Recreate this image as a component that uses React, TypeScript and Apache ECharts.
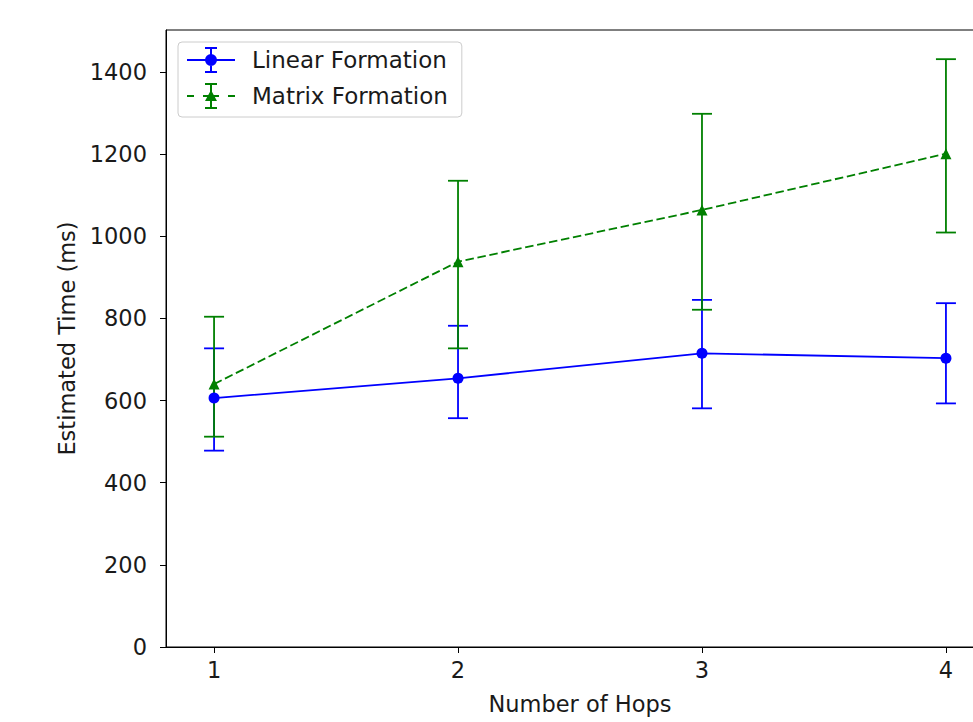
import React, { useEffect, useRef } from "react";
import * as echarts from "echarts";

const hops = [1, 2, 3, 4];
const linearMean = [606, 654, 715, 703];
const linearLow = [478, 557, 581, 593];
const linearHigh = [727, 782, 845, 837];
const matrixMean = [640, 938, 1064, 1201];
const matrixLow = [512, 727, 821, 1009];
const matrixHigh = [804, 1135, 1298, 1431];
const yTicks = [0, 200, 400, 600, 800, 1000, 1200, 1400];

const BLUE = "#0000ff";
const GREEN = "#008000";
const FONT = "DejaVu Sans";
const TEXT = "#1a1a1a";

const rect = (x: number, y: number, w: number, h: number) =>
  `M${x} ${y} h${w} v${h} h${-w} Z`;
const errIcon = "M23 0 h2 v26 h-2 Z " + rect(18, 0, 12, 2) + " " + rect(18, 24, 12, 2);
const linearIcon =
  "path://" + rect(0, 12, 48, 2) + " " + errIcon +
  " M30 13 A6 6 0 1 1 18 13 A6 6 0 1 1 30 13 Z";
const matrixIcon =
  "path://" + rect(0, 12, 7, 2) + " " + rect(16, 12, 16, 2) + " " + rect(41, 12, 7, 2) + " " +
  errIcon + " M24 7 L30 18 L18 18 Z";

function errorSeries(name: string, color: string, low: number[], high: number[], z: number) {
  return {
    type: "custom",
    name,
    z,
    color,
    encode: { x: 0, y: [1, 2] },
    data: hops.map((h, i) => [h, low[i], high[i]]),
    renderItem: (_p: any, api: any) => {
      const x = api.value(0);
      const pLo = api.coord([x, api.value(1)]);
      const pHi = api.coord([x, api.value(2)]);
      const hw = 10;
      const style = { stroke: color, lineWidth: 1.8 };
      return {
        type: "group",
        children: [
          { type: "line", shape: { x1: pLo[0], y1: pLo[1], x2: pHi[0], y2: pHi[1] }, style },
          { type: "line", shape: { x1: pLo[0] - hw, y1: pLo[1], x2: pLo[0] + hw, y2: pLo[1] }, style },
          { type: "line", shape: { x1: pHi[0] - hw, y1: pHi[1], x2: pHi[0] + hw, y2: pHi[1] }, style },
        ],
      };
    },
  };
}

export default function App() {
  const ref = useRef<HTMLDivElement>(null);
  useEffect(() => {
    if (!ref.current) return;
    const chart = echarts.init(ref.current, null, { renderer: "svg" });
    chart.setOption({
      animation: false,
      backgroundColor: "#fff",
      textStyle: { fontFamily: FONT },
      grid: {
        left: 166,
        top: 30,
        right: 1,
        bottom: 75,
        show: true,
        borderColor: "#000",
        borderWidth: 1,
        backgroundColor: "transparent",
      },
      legend: {
        orient: "vertical",
        left: 178,
        top: 42,
        padding: [5, 14, 8, 9],
        itemGap: 10,
        itemWidth: 48,
        itemHeight: 26,
        borderColor: "#cccccc",
        borderWidth: 1,
        borderRadius: 4,
        backgroundColor: "rgba(255,255,255,0.8)",
        textStyle: { fontFamily: FONT, fontSize: 23, color: TEXT, padding: [0, 0, 0, 12] },
        data: [
          { name: "Linear Formation", icon: linearIcon, itemStyle: { color: BLUE } },
          { name: "Matrix Formation", icon: matrixIcon, itemStyle: { color: GREEN } },
        ],
        selectedMode: false,
      },
      xAxis: {
        type: "value",
        min: 0.803,
        max: 4.197,
        name: "Number of Hops",
        nameLocation: "middle",
        nameGap: 45,
        nameTextStyle: { fontFamily: FONT, fontSize: 22.5, color: TEXT },
        axisLine: { show: true, onZero: false, lineStyle: { color: "#000", width: 1 } },
        axisTick: { show: true, length: 6, customValues: hops, lineStyle: { color: "#000" } },
        axisLabel: {
          customValues: hops,
          margin: 11,
          fontFamily: FONT,
          fontSize: 22.5,
          color: TEXT,
          formatter: (v: number) => String(v),
        },
        splitLine: { show: false },
      },
      yAxis: {
        type: "value",
        min: 0,
        max: 1502,
        name: "Estimated Time (ms)",
        nameLocation: "middle",
        nameGap: 86,
        nameTextStyle: { fontFamily: FONT, fontSize: 22.5, color: TEXT },
        axisLine: { show: true, onZero: false, lineStyle: { color: "#000", width: 1 } },
        axisTick: { show: true, length: 6, customValues: yTicks, lineStyle: { color: "#000" } },
        axisLabel: {
          customValues: yTicks,
          margin: 19,
          fontFamily: FONT,
          fontSize: 22.5,
          color: TEXT,
          formatter: (v: number) => String(v),
        },
        splitLine: { show: false },
      },
      series: [
        errorSeries("Linear Formation", BLUE, linearLow, linearHigh, 2),
        errorSeries("Matrix Formation", GREEN, matrixLow, matrixHigh, 3),
        {
          type: "line",
          name: "Linear Formation",
          z: 4,
          color: BLUE,
          data: hops.map((h, i) => [h, linearMean[i]]),
          symbol: "circle",
          symbolSize: 11,
          lineStyle: { color: BLUE, width: 1.8 },
          itemStyle: { color: BLUE },
        },
        {
          type: "line",
          name: "Matrix Formation",
          z: 5,
          color: GREEN,
          data: hops.map((h, i) => [h, matrixMean[i]]),
          symbol: "triangle",
          symbolSize: 11,
          lineStyle: { color: GREEN, width: 1.8, type: [8.5, 3.7] },
          itemStyle: { color: GREEN },
        },
      ],
    });
    return () => chart.dispose();
  }, []);
  return (
    <div
      style={{
        position: "absolute",
        left: 0,
        top: 0,
        width: 973,
        height: 722,
        overflow: "hidden",
        background: "#fff",
      }}
    >
      <div ref={ref} style={{ width: 995, height: 722 }} />
    </div>
  );
}
